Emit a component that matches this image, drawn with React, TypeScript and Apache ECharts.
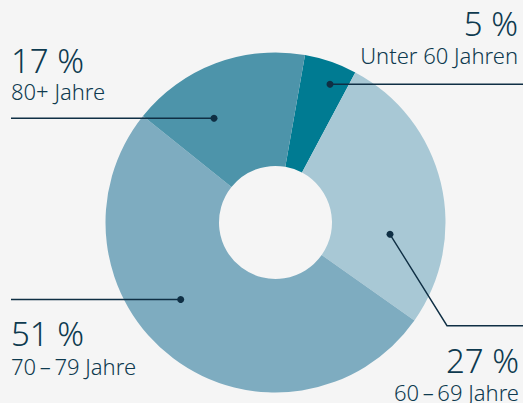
import React, { useEffect, useRef } from "react";
import * as echarts from "echarts";

const categories = ["Unter 60 Jahren", "60\u2009–\u200969 Jahre", "70\u2009–\u200979 Jahre", "80+ Jahre"];
const values = [5, 27, 51, 17];
const percentLabels = values.map((v) => `${v} %`);

const sliceColors = ["#007b92", "#a8c8d5", "#7eacc0", "#4d94aa"];
const TEXT = "#0e3a4f";
const LINE = "#0f2f44";
const FONT = "'Noto Sans', 'Open Sans', sans-serif";

// annotation layout (pixels): dot, polyline, label anchor
const annot = [
  { dot: [330, 84.3], pts: [[330, 84.3], [523, 84.3]], x: 518, align: "right", bigBase: 35, smallBase: 63 },
  { dot: [390, 234.3], pts: [[390, 234.3], [447, 325.7], [523, 325.7]], x: 519, align: "right", bigBase: 372, smallBase: 400 },
  { dot: [180.7, 299.5], pts: [[180.7, 299.5], [11, 299.5]], x: 11, align: "left", bigBase: 345, smallBase: 374 },
  { dot: [214, 118.3], pts: [[214, 118.3], [11, 118.3]], x: 11, align: "left", bigBase: 72, smallBase: 99 },
];

export default function App() {
  const ref = useRef<HTMLDivElement>(null);
  useEffect(() => {
    document.body.style.margin = "0";
    document.body.style.background = "#f5f5f5";
    if (!ref.current) return;
    const chart = echarts.init(ref.current, null, { renderer: "svg" });
    const BIG = 33;
    const SMALL = 22;
    const graphics: any[] = [];
    annot.forEach((a, i) => {
      graphics.push({
        type: "polyline",
        shape: { points: a.pts },
        style: { stroke: LINE, lineWidth: 1.4, fill: null },
        z: 10,
      });
      graphics.push({
        type: "circle",
        shape: { cx: a.dot[0], cy: a.dot[1], r: 3.5 },
        style: { fill: LINE },
        z: 11,
      });
      graphics.push({
        type: "text",
        x: a.x,
        y: a.bigBase - BIG * 0.36,
        style: {
          text: percentLabels[i],
          font: `300 ${BIG}px ${FONT}`,
          fill: TEXT,
          align: a.align,
          verticalAlign: "middle",
        },
        z: 12,
      });
      graphics.push({
        type: "text",
        x: a.x,
        y: a.smallBase - SMALL * 0.36,
        style: {
          text: categories[i],
          font: `300 ${SMALL}px ${FONT}`,
          fill: TEXT,
          align: a.align,
          verticalAlign: "middle",
        },
        z: 12,
      });
    });
    chart.setOption({
      animation: false,
      backgroundColor: "#f5f5f5",
      series: [
        {
          type: "pie",
          center: [275.5, 222.5],
          radius: [56.5, 170],
          startAngle: 80,
          clockwise: true,
          label: { show: false },
          labelLine: { show: false },
          emphasis: { disabled: true },
          itemStyle: { borderWidth: 0 },
          data: categories.map((c, i) => ({
            name: c,
            value: values[i],
            itemStyle: { color: sliceColors[i] },
          })),
        },
      ],
      graphic: graphics,
    });
    return () => chart.dispose();
  }, []);
  return <div ref={ref} style={{ width: 523, height: 403 }} />;
}
